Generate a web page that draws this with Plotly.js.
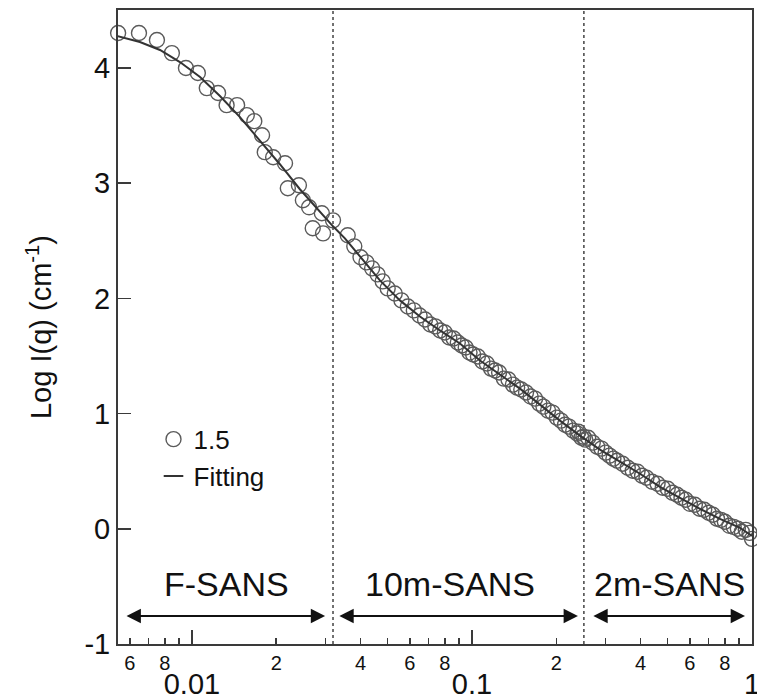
<!DOCTYPE html>
<html>
<head>
<meta charset="utf-8">
<script src="https://cdn.plot.ly/plotly-3.0.1.min.js"></script>
<style>html,body{margin:0;padding:0;background:#fff;}#chart{width:757px;height:699px;}</style>
</head>
<body>
<div id="chart"></div>
<script>
// ---- data (q in 1/Å, log I in log10 cm^-1) ----
const qFSANS = [0.00545,0.00647,0.0075,0.00848,0.00952,0.0105,0.0113,0.0124,0.0133,0.0145,0.0157,0.0167,0.0178,0.0182,0.0195,0.0215,0.0220,0.0241,0.0249,0.0262,0.0270,0.0291,0.0294,0.0319];
const logIFSANS = [4.304,4.304,4.243,4.130,4.000,3.957,3.826,3.783,3.678,3.678,3.591,3.539,3.417,3.270,3.226,3.174,2.957,2.983,2.852,2.791,2.609,2.739,2.565,2.678];

const q10m = [0.036,0.038,0.040,0.042,0.044,0.046,0.048,0.050,0.053,0.056,0.059,0.062,0.065,0.068,0.071,0.074,0.077,0.080,0.083,0.086,0.089,0.092,0.095,0.098,0.101,0.105,0.109,0.113,0.117,0.121,0.125,0.130,0.135,0.140,0.145,0.150,0.156,0.162,0.168,0.174,0.180,0.187,0.194,0.201,0.208,0.215,0.222,0.230,0.238,0.246,0.254];
const logI10m = [2.548,2.452,2.357,2.313,2.261,2.209,2.148,2.087,2.043,1.983,1.930,1.896,1.852,1.817,1.774,1.757,1.722,1.704,1.661,1.652,1.617,1.591,1.574,1.530,1.513,1.496,1.452,1.435,1.391,1.374,1.357,1.304,1.296,1.252,1.226,1.209,1.183,1.148,1.130,1.087,1.061,1.026,1.009,0.965,0.939,0.904,0.887,0.852,0.826,0.791,0.774];

const q2m = [0.24,0.25,0.26,0.27,0.28,0.29,0.30,0.31,0.32,0.33,0.345,0.36,0.375,0.39,0.405,0.42,0.44,0.46,0.48,0.50,0.52,0.54,0.56,0.58,0.60,0.625,0.65,0.675,0.70,0.725,0.75,0.775,0.80,0.83,0.86,0.89,0.92,0.95,0.98,1.0];
const logI2m = [0.843,0.800,0.791,0.748,0.713,0.696,0.661,0.635,0.609,0.591,0.565,0.530,0.504,0.496,0.461,0.443,0.409,0.391,0.357,0.348,0.313,0.296,0.270,0.252,0.217,0.209,0.174,0.165,0.139,0.122,0.087,0.078,0.061,0.026,0.017,0.000,-0.026,-0.009,-0.035,-0.087];

const qFit = [0.0054,0.00601,0.00652,0.00769,0.00906,0.01069,0.01259,0.01484,0.01749,0.02061,0.0243,0.02864,0.0319,0.03518,0.03981,0.04692,0.05531,0.06519,0.07684,0.09057,0.1068,0.1259,0.1484,0.1749,0.2061,0.243,0.2864,0.3376,0.3981,0.4692,0.5531,0.6519,0.7684,0.9057,1.0];
const logIFit = [4.278,4.252,4.226,4.157,4.052,3.922,3.757,3.574,3.374,3.165,2.948,2.748,2.626,2.522,2.365,2.157,1.983,1.843,1.722,1.609,1.461,1.339,1.217,1.078,0.939,0.809,0.687,0.583,0.478,0.365,0.270,0.174,0.087,0.009,-0.061];

const boundaries = [0.0319, 0.251];
const regionNames = ['F-SANS', '10m-SANS', '2m-SANS'];
const regionLabelQ = [0.01334, 0.0834, 0.506];
const regionArrowStart = [0.00577, 0.0332, 0.268];
const regionArrowEnd = [0.0299, 0.239, 0.944];
const regionLabelY = -0.48;
const regionArrowY = -0.757;

const minorTickVals = [0.006,0.007,0.008,0.009,0.02,0.03,0.04,0.05,0.06,0.07,0.08,0.09,0.2,0.3,0.4,0.5,0.6,0.7,0.8,0.9];
const minorTickText = ['6','','8','','2','','4','','6','','8','','2','','4','','6','','8',''];
const majorTickVals = [0.01, 0.1, 1];
const majorTickText = ['0.01', '0.1', '1'];
const yTickVals = [-1, 0, 1, 2, 3, 4];
const yTickText = ['-1', '0', '1', '2', '3', '4'];
const yRange = [-1, 4.504];
const xRangeLog = [-2.264, 0];

const FONT = 'Liberation Sans, Arial, Helvetica, sans-serif';
const AXC = '#3a3a3a';

const qAll = qFSANS.concat(q10m, q2m);
const logIAll = logIFSANS.concat(logI10m, logI2m);

const traces = [];
boundaries.forEach(b => {
  traces.push({x: [b, b], y: yRange, mode: 'lines', showlegend: false, hoverinfo: 'skip',
    line: {color: '#444', width: 1.5, dash: 'dot'}});
});
traces.push({x: qAll, y: logIAll, name: '1.5', mode: 'markers', cliponaxis: false,
  marker: {symbol: 'circle-open', size: 15, color: '#5a5a5a', line: {width: 1.4, color: '#5a5a5a'}}});
traces.push({x: qFit, y: logIFit, name: 'Fitting', mode: 'lines', showlegend: false,
  line: {color: '#333', width: 2}});
// legend entry for the fit (short dash sample, as in the reference)
traces.push({x: [null], y: [null], name: 'Fitting', mode: 'markers', hoverinfo: 'skip',
  marker: {symbol: 'line-ew-open', size: 14, color: '#333', line: {width: 2, color: '#333'}}});

const annotations = [];
regionNames.forEach((n, i) => {
  annotations.push({x: Math.log10(regionLabelQ[i]), y: regionLabelY, xref: 'x', yref: 'y', text: n,
    showarrow: false, font: {family: FONT, size: 34, color: '#111'}});
  annotations.push({x: Math.log10(regionArrowEnd[i]), y: regionArrowY, ax: Math.log10(regionArrowStart[i]), ay: regionArrowY,
    xref: 'x', yref: 'y', axref: 'x', ayref: 'y', text: '', showarrow: true, arrowside: 'end+start',
    arrowhead: 2, arrowsize: 1.3, arrowwidth: 2.2, arrowcolor: '#111', standoff: 0, startstandoff: 0});
});

const layout = {
  width: 757, height: 699,
  margin: {l: 118, r: 5, t: 10, b: 55},
  paper_bgcolor: '#fff', plot_bgcolor: '#fff',
  font: {family: FONT, color: '#111'},
  showlegend: true,
  legend: {x: 0.056, y: 0.36, xanchor: 'left', yanchor: 'top', bgcolor: 'rgba(0,0,0,0)',
    font: {family: FONT, size: 26, color: '#111'}, itemwidth: 30, tracegroupgap: 0},
  xaxis: {type: 'log', range: xRangeLog, tickmode: 'array', tickvals: minorTickVals, ticktext: minorTickText,
    ticks: 'inside', ticklen: 6, tickwidth: 1.5, tickcolor: AXC, showgrid: false, zeroline: false,
    showline: true, linecolor: AXC, linewidth: 2, mirror: true, ticklabeloverflow: 'allow',
    tickfont: {family: FONT, size: 20, color: '#111'}},
  xaxis2: {type: 'log', range: xRangeLog, overlaying: 'x', anchor: 'y', side: 'bottom', tickmode: 'array',
    tickvals: majorTickVals, ticktext: majorTickText, ticks: 'inside', ticklen: 14, tickwidth: 1.5, tickcolor: AXC,
    showgrid: false, zeroline: false, showline: false, ticklabelstandoff: 20, ticklabeloverflow: 'allow',
    tickfont: {family: FONT, size: 29, color: '#111'}},
  yaxis: {range: yRange, tickmode: 'array', tickvals: yTickVals, ticktext: yTickText, ticks: 'inside', ticklen: 13, tickwidth: 1.5,
    tickcolor: AXC, showgrid: false, zeroline: false, showline: true, linecolor: AXC, linewidth: 2, mirror: true,
    tickfont: {family: FONT, size: 29, color: '#111'},
    title: {text: 'Log I(q) (cm<sup>-1</sup>)', font: {family: FONT, size: 29, color: '#111'}, standoff: 24}},
  annotations: annotations
};

// invisible trace so the decade-label axis (xaxis2) is drawn
traces.push({x: [0.01], y: [null], xaxis: 'x2', yaxis: 'y', showlegend: false, hoverinfo: 'skip', mode: 'markers'});

Plotly.newPlot('chart', traces, layout, {staticPlot: true, displayModeBar: false});
</script>
</body>
</html>
